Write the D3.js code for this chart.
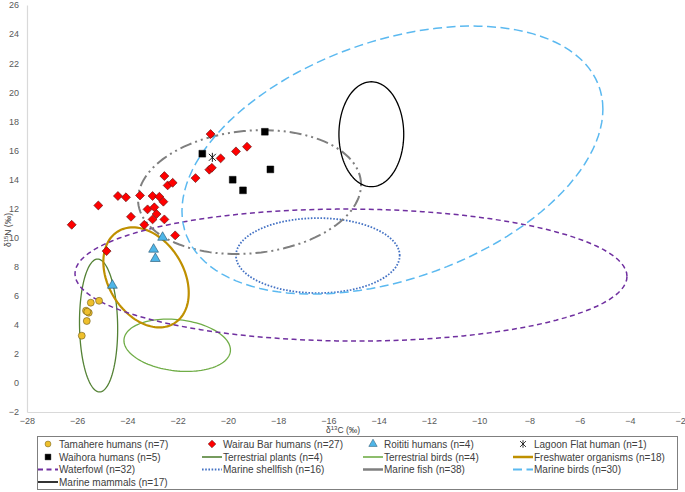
<!DOCTYPE html>
<html>
<head>
<meta charset="utf-8">
<script src="https://cdn.jsdelivr.net/npm/d3@7"></script>
<style>
body { margin: 0; background: #fff; }
text { font-family: "Liberation Sans", Arial, sans-serif; }
</style>
</head>
<body>
<svg id="chart" width="685" height="492"></svg>
<script>
// human collagen values (d13C, d15N)
var tamahereX = [-25.46, -25.13, -25.65, -25.54, -25.62, -25.82, -25.60];
var tamahereY = [5.52, 5.65, 4.97, 4.83, 4.26, 3.25, 4.90];

var wairauX = [-20.69, -20.29, -19.68, -19.24, -20.74, -20.64, -21.29, -22.53, -22.40, -22.20,
  -24.38, -24.06, -23.50, -23.00, -22.73, -22.57, -25.16, -23.20, -22.93, -22.84,
  -23.86, -23.00, -22.53, -23.33, -26.22, -22.10, -24.83];
var wairauY = [17.12, 15.45, 15.93, 16.25, 14.67, 14.80, 14.09, 14.23, 13.59, 13.77,
  12.86, 12.77, 12.90, 12.86, 12.81, 12.47, 12.21, 11.94, 12.08, 11.62,
  11.43, 11.25, 11.25, 10.88, 10.88, 10.15, 9.07];

var roititiX = [-22.60, -22.96, -22.89, -24.60];
var roititiY = [10.01, 9.19, 8.55, 6.71];

var lagoonX = [-20.62];
var lagoonY = [15.52];

var waihoraX = [-21.02, -18.53, -18.31, -19.81, -19.40];
var waihoraY = [15.77, 17.28, 14.69, 13.98, 13.25];

// food group ellipses: centre, half extent in x and y, correlation
var ellipseNames = ["Terrestrial plants", "Terrestrial birds", "Freshwater organisms", "Waterfowl",
  "Marine shellfish", "Marine fish", "Marine birds", "Marine mammals"];
var ellipseCx = [-25.15, -22.02, -23.26, -15.10, -16.42, -19.14, -13.45, -14.29];
var ellipseCy = [3.95, 2.59, 7.26, 7.42, 8.76, 13.13, 15.33, 17.11];
var ellipseSx = [0.76, 2.12, 1.70, 10.99, 3.26, 4.44, 8.38, 1.29];
var ellipseSy = [4.57, 1.80, 3.44, 4.54, 2.58, 4.26, 9.22, 3.61];
var ellipseRho = [-0.05, -0.18, -0.31, -0.02, 0, 0.12, 0.38, 0];

var xTicks = [-28, -26, -24, -22, -20, -18, -16, -14, -12, -10, -8, -6, -4, -2];
var yTicks = [-2, 0, 2, 4, 6, 8, 10, 12, 14, 16, 18, 20, 22, 24, 26];

var legendNames = [
  "Tamahere humans (n=7)", "Wairau Bar humans (n=27)", "Roititi humans (n=4)", "Lagoon Flat human (n=1)",
  "Waihora humans (n=5)", "Terrestrial plants (n=4)", "Terrestrial birds (n=4)", "Freshwater organisms (n=18)",
  "Waterfowl (n=32)", "Marine shellfish (n=16)", "Marine fish (n=38)", "Marine birds (n=30)",
  "Marine mammals (n=17)"];

var ellipseStyle = {
  "Terrestrial plants": {color: "#548235", width: 1.3, dash: null},
  "Terrestrial birds": {color: "#70AD47", width: 1.3, dash: null},
  "Freshwater organisms": {color: "#BF9000", width: 2.2, dash: null},
  "Waterfowl": {color: "#7030A0", width: 1.5, dash: "5,3.5"},
  "Marine shellfish": {color: "#4472C4", width: 1.8, dash: "1.6,1.6"},
  "Marine fish": {color: "#7F7F7F", width: 2, dash: "12,4,2,4,2,4"},
  "Marine birds": {color: "#5BB9F0", width: 1.5, dash: "9,4.5"},
  "Marine mammals": {color: "#000000", width: 1.3, dash: null}
};

var svg = d3.select("#chart");
var x = d3.scaleLinear().domain([-28, -2]).range([27, 680]);
var y = d3.scaleLinear().domain([-2, 26]).range([412, 5]);

// axes
var xAxis = svg.append("g").attr("transform", "translate(0,412)")
  .call(d3.axisBottom(x).tickValues(xTicks).tickSize(0).tickPadding(6));
var yAxis = svg.append("g").attr("transform", "translate(27,0)")
  .call(d3.axisLeft(y).tickValues(yTicks).tickSize(0).tickPadding(8));
[xAxis, yAxis].forEach(function(g) {
  g.select(".domain").attr("stroke", "#d9d9d9").attr("stroke-width", 1.2);
  g.selectAll("text").attr("fill", "#595959").style("font-size", "9px")
    .style("font-family", "Liberation Sans, Arial, sans-serif");
});

var xt = svg.append("text").attr("x", 343).attr("y", 433).attr("text-anchor", "middle")
  .attr("fill", "#404040").style("font-size", "8.5px");
xt.append("tspan").text("δ");
xt.append("tspan").attr("dy", -3).style("font-size", "6px").text("13");
xt.append("tspan").attr("dy", 3).text("C (‰)");

var yt = svg.append("text").attr("transform", "translate(11,230) rotate(-90)")
  .attr("text-anchor", "middle").attr("fill", "#404040").style("font-size", "8.5px");
yt.append("tspan").text("δ");
yt.append("tspan").attr("dy", -3).style("font-size", "6px").text("15");
yt.append("tspan").attr("dy", 3).text("N (‰)");

// ellipses
var angles = d3.range(0, 2 * Math.PI, Math.PI / 60);
var ellipseLine = d3.line().curve(d3.curveLinearClosed);
ellipseNames.forEach(function(name, i) {
  var r = ellipseRho[i], k = Math.sqrt(1 - r * r);
  var pts = angles.map(function(t) {
    var dx = ellipseCx[i] + ellipseSx[i] * Math.cos(t);
    var dy = ellipseCy[i] + ellipseSy[i] * (r * Math.cos(t) + k * Math.sin(t));
    return [x(dx), y(dy)];
  });
  var st = ellipseStyle[name];
  svg.append("path").attr("d", ellipseLine(pts))
    .attr("fill", "none").attr("stroke", st.color)
    .attr("stroke-width", st.width)
    .attr("stroke-dasharray", st.dash);
});

// markers
var starPath = "M-3.5,-3.5L3.5,3.5M-3.5,3.5L3.5,-3.5M0,-4.5L0,4.5";
function drawPoints(xs, ys, kind) {
  var g = svg.append("g");
  var sel = g.selectAll("path").data(xs).enter().append("path")
    .attr("transform", function(d, i) { return "translate(" + x(d) + "," + y(ys[i]) + ")" + (kind === "diamond" ? " rotate(45)" : ""); });
  styleMarker(sel, kind);
}
function styleMarker(sel, kind) {
  if (kind === "circle") {
    sel.attr("d", d3.symbol(d3.symbolCircle, 38)).attr("fill", "#EEBF2C").attr("stroke", "#6b5a1e").attr("stroke-width", 0.6);
  } else if (kind === "diamond") {
    sel.attr("d", d3.symbol(d3.symbolSquare, 40)).attr("fill", "#FF0000").attr("stroke", "#5a1010").attr("stroke-width", 0.6);
  } else if (kind === "triangle") {
    sel.attr("d", d3.symbol(d3.symbolTriangle, 42)).attr("fill", "#4FB6E8").attr("stroke", "#1f4f6b").attr("stroke-width", 0.6);
  } else if (kind === "square") {
    sel.attr("d", d3.symbol(d3.symbolSquare, 46)).attr("fill", "#000").attr("stroke", "#000").attr("stroke-width", 0.5);
  } else if (kind === "star") {
    sel.attr("d", starPath).attr("fill", "none").attr("stroke", "#000").attr("stroke-width", 0.9);
  }
}
drawPoints(tamahereX, tamahereY, "circle");
drawPoints(roititiX, roititiY, "triangle");
drawPoints(waihoraX, waihoraY, "square");
drawPoints(wairauX, wairauY, "diamond");
drawPoints(lagoonX, lagoonY, "star");

// legend
var legendKinds = ["circle", "diamond", "triangle", "star", "square"];
var colX = [38, 202, 363, 513];
var rowY = [444, 457, 469.5, 482];
svg.append("rect").attr("x", 37.5).attr("y", 436.5).attr("width", 640).attr("height", 53)
  .attr("fill", "none").attr("stroke", "#7f7f7f").attr("stroke-width", 1);

legendNames.forEach(function(label, i) {
  var cx = colX[i % 4], cy = rowY[Math.floor(i / 4)];
  var g = svg.append("g");
  if (i < legendKinds.length) {
    var m = g.append("path").attr("transform", "translate(" + (cx + 10) + "," + cy + ")" + (legendKinds[i] === "diamond" ? " rotate(45)" : "") + " scale(0.85)");
    styleMarker(m, legendKinds[i]);
  } else {
    var name = label.replace(/ \(n=\d+\)$/, "");
    var st = ellipseStyle[name];
    g.append("line").attr("x1", cx).attr("x2", cx + 20).attr("y1", cy).attr("y2", cy)
      .attr("stroke", st.color)
      .attr("stroke-width", name === "Marine fish" || name === "Freshwater organisms" ? 2.5 : st.width + 0.3)
      .attr("stroke-dasharray", name === "Marine fish" ? null : st.dash);
  }
  g.append("text").attr("x", cx + 21).attr("y", cy + 3.5).attr("fill", "#404040")
    .style("font-size", "10px").text(label);
});
</script>
</body>
</html>
